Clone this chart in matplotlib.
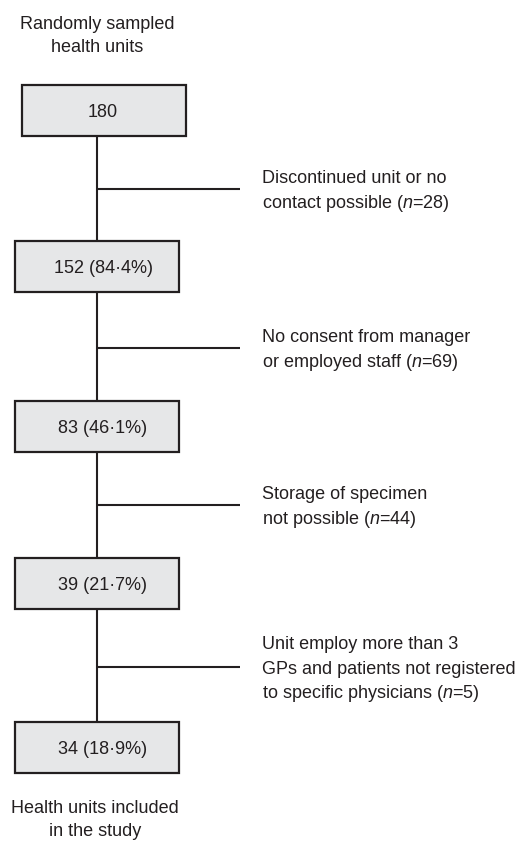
import matplotlib
matplotlib.use("Agg")
import matplotlib.pyplot as plt
from matplotlib.patches import Rectangle

# data
counts = [180, 152, 83, 39, 34]
percents = [None, 84.4, 46.1, 21.7, 18.9]
reasons = [["Discontinued unit or no", "contact possible"],
           ["No consent from manager", "or employed staff"],
           ["Storage of specimen", "not possible"],
           ["Unit employ more than 3", "GPs and patients not registered",
            "to specific physicians"]]
excluded = [28, 69, 44, 5]
top_label = ["Randomly sampled", "health units"]
bottom_label = ["Health units included", "in the study"]

plt.rcParams["font.family"] = ["Liberation Sans", "DejaVu Sans"]
plt.rcParams["mathtext.fontset"] = "custom"
plt.rcParams["mathtext.rm"] = "Liberation Sans"
plt.rcParams["mathtext.it"] = "Liberation Sans:italic"

ink = "#231f20"
fill = "#e6e7e8"
fs = 13

fig = plt.figure(figsize=(5.23, 8.42), dpi=100)
ax = fig.add_axes([0, 0, 1, 1])
ax.set_xlim(0, 523)
ax.set_ylim(842, 0)
ax.axis("off")

# layout (pixel positions)
box_left = [22, 15, 15, 15, 15]
box_w = 164
box_top = [85, 241, 401, 558, 722]
box_h = 51
line_x = 97
branch_y = [189, 348, 505, 667]
branch_end = 240
reason_x = 262
text_x = 103
base = 6.5  # baseline offset from visual centre of a line


def lines(x, yc, rows, ha, step=24.5):
    k = len(rows)
    for j, s in enumerate(rows):
        y = yc + (j - (k - 1) / 2) * step + base
        ax.text(x, y, s, ha=ha, va="baseline", fontsize=fs, color=ink)


# vertical connectors
for i in range(len(counts) - 1):
    ax.plot([line_x, line_x], [box_top[i] + box_h, box_top[i + 1]],
            color=ink, lw=1.5, solid_capstyle="butt")

# boxes
for i, c in enumerate(counts):
    ax.add_patch(Rectangle((box_left[i], box_top[i]), box_w, box_h,
                           facecolor=fill, edgecolor=ink, lw=1.6, zorder=3))
    if percents[i] is None:
        label = str(c)
    else:
        label = f"{c} ({percents[i]:.1f}%)".replace(".", "\u00b7")
    ax.text(text_x, box_top[i] + box_h / 2 + base, label,
            ha="center", va="baseline", fontsize=fs, color=ink, zorder=4)

# exclusion branches
for i, (r, n) in enumerate(zip(reasons, excluded)):
    ax.plot([line_x, branch_end], [branch_y[i], branch_y[i]],
            color=ink, lw=1.5, solid_capstyle="butt")
    rows = r[:-1] + [r[-1] + f" ($n$={n})"]
    lines(reason_x, branch_y[i], rows, "left")

lines(97, 34, top_label, "center", step=23)
lines(95, 818, bottom_label, "center", step=23)

fig.savefig("out.png", dpi=100)
